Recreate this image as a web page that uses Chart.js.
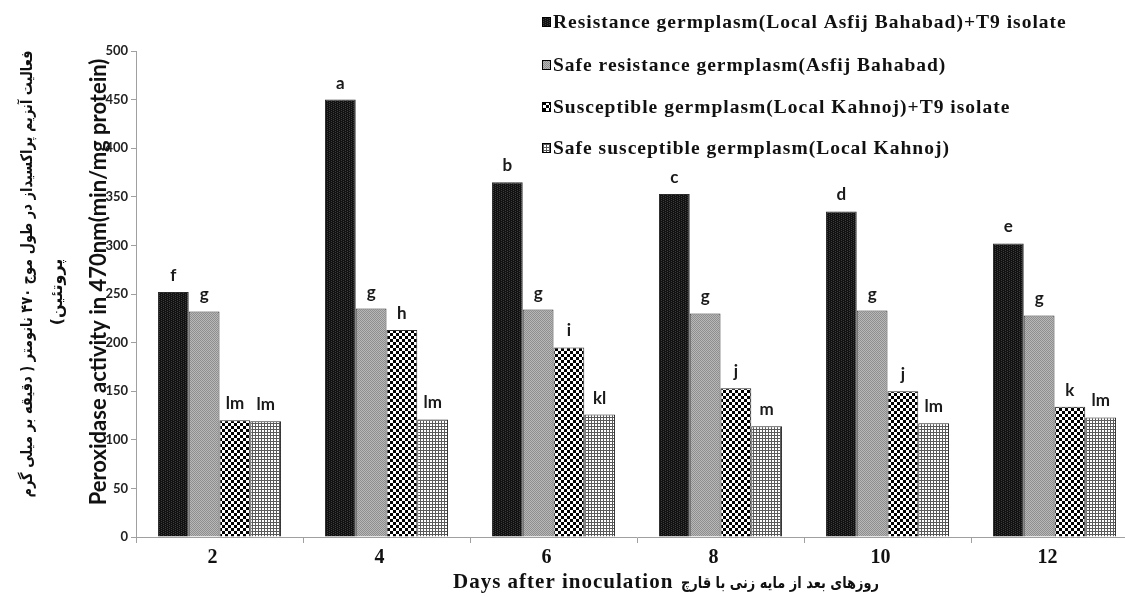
<!DOCTYPE html>
<html><head><meta charset="utf-8">
<script src="https://cdn.jsdelivr.net/npm/chart.js@4.4.1/dist/chart.umd.min.js"></script>
<style>
html,body{margin:0;padding:0;background:#fff;overflow:hidden;}
#wrap{width:1125px;height:597px;overflow:hidden;position:relative;background:#fff;}
canvas{display:block;}
</style></head><body>
<div id="wrap"><canvas id="c" width="1145" height="597"></canvas></div>
<script>
// ---- data ----
const categories = ['2', '4', '6', '8', '10', '12'];
const seriesNames = [
  'Resistance germplasm(Local Asfij Bahabad)+T9 isolate',
  'Safe resistance germplasm(Asfij Bahabad)',
  'Susceptible germplasm(Local Kahnoj)+T9 isolate',
  'Safe susceptible germplasm(Local Kahnoj)'
];
const resistInoculated = [252, 450, 365, 353, 335, 302];
const resistSafe       = [232, 235, 234, 230, 233, 228];
const suscInoculated   = [120, 213, 195, 153, 150, 134];
const suscSafe         = [119, 121, 126, 114, 117, 123];
const lettersResistInoc = ['f', 'a', 'b', 'c', 'd', 'e'];
const lettersResistSafe = ['g', 'g', 'g', 'g', 'g', 'g'];
const lettersSuscInoc   = ['lm', 'h', 'i', 'j', 'j', 'k'];
const lettersSuscSafe   = ['lm', 'lm', 'kl', 'm', 'lm', 'lm'];
const yMin = 0, yMax = 500, yStep = 50;
const yTitleEn = 'Peroxidase activity in 470nm(min/mg protein)';
const yTitleFa1 = 'فعالیت آنزیم پراکسیداز در طول موج ۴۷۰ نانومتر ( دقیقه بر میلی گرم';
const yTitleFa2 = 'پروتئین)';
const xTitleEn = 'Days after inoculation';
const xTitleFa = 'روزهای بعد از مایه زنی با قارچ';

// ---- patterns ----
const mainCtx = document.getElementById('c').getContext('2d');
function makePattern(size, draw) {
  const c = document.createElement('canvas');
  c.width = c.height = size;
  const x = c.getContext('2d');
  draw(x, size);
  return mainCtx.createPattern(c, 'repeat');
}
const patBlack = makePattern(4, (x) => {
  x.fillStyle = '#121212'; x.fillRect(0, 0, 4, 4);
  x.fillStyle = '#3c3c3c'; x.fillRect(1, 0, 1, 1); x.fillRect(1, 2, 1, 1); x.fillRect(3, 1, 1, 1); x.fillRect(3, 3, 1, 1);
});
const patGrey = makePattern(2, (x) => {
  x.fillStyle = '#b8b8b8'; x.fillRect(0, 0, 2, 2);
  x.fillStyle = '#8e8e8e'; x.fillRect(0, 0, 1, 1); x.fillRect(1, 1, 1, 1);
});
const patChecker = makePattern(6, (x) => {
  x.fillStyle = '#000'; x.fillRect(0, 0, 6, 6);
  x.fillStyle = '#fff'; x.fillRect(0, 0, 3, 3); x.fillRect(3, 3, 3, 3);
});
const patGrid = makePattern(3, (x) => {
  x.fillStyle = '#fff'; x.fillRect(0, 0, 3, 3);
  x.fillStyle = '#5a5a5a'; x.fillRect(0, 0, 3, 1); x.fillRect(0, 0, 1, 3);
});
const fills = [patBlack, patGrey, patChecker, patGrid];

// ---- plugins ----
const letterPlugin = {
  id: 'letters',
  afterDatasetsDraw(chart) {
    const ctx = chart.ctx;
    ctx.save();
    ctx.font = 'bold 17px Lato';
    ctx.fillStyle = '#1a1a1a';
    ctx.textAlign = 'center';
    ctx.textBaseline = 'alphabetic';
    chart.data.datasets.forEach((ds, i) => {
      chart.getDatasetMeta(i).data.forEach((bar, j) => {
        ctx.fillText(ds.letters[j], bar.x, bar.y - 11);
      });
    });
    ctx.restore();
  }
};

const textPlugin = {
  id: 'texts',
  afterDraw(chart) {
    const ctx = chart.ctx;
    ctx.save();
    ctx.fillStyle = '#111';
    // y titles
    ctx.textAlign = 'center';
    ctx.textBaseline = 'middle';
    ctx.save(); ctx.translate(99, 282); ctx.rotate(-Math.PI / 2);
    ctx.font = 'bold 22px Lato';
    ctx.fillText(yTitleEn, 0, 0, 460);
    ctx.restore();
    ctx.save(); ctx.translate(28, 274); ctx.rotate(-Math.PI / 2);
    ctx.direction = 'rtl';
    ctx.font = 'bold 16px "DejaVu Sans"';
    ctx.fillText(yTitleFa1, 0, 0, 447);
    ctx.restore();
    ctx.save(); ctx.translate(58, 292); ctx.rotate(-Math.PI / 2);
    ctx.direction = 'rtl';
    ctx.font = 'bold 16px "DejaVu Sans"';
    ctx.fillText(yTitleFa2, 0, 0);
    ctx.restore();
    // x title
    ctx.textAlign = 'left';
    ctx.font = 'bold 21px "Liberation Serif"';
    ctx.letterSpacing = '1px';
    ctx.fillText(xTitleEn, 453, 583, 222);
    ctx.letterSpacing = '0px';
    ctx.save();
    ctx.direction = 'rtl';
    ctx.textAlign = 'center';
    ctx.font = 'bold 16px "DejaVu Sans"';
    ctx.fillText(xTitleFa, 780, 584, 198);
    ctx.restore();
    // legend
    const ly = [22, 65, 107, 148];
    const lw = [514, 395, 459, 400];
    ctx.font = 'bold 19.5px "Liberation Serif"';
    ctx.textAlign = 'left';
    chart.data.datasets.forEach((ds, i) => {
      ctx.fillStyle = fills[i];
      ctx.fillRect(542, ly[i] - 5, 8, 9);
      ctx.strokeStyle = '#000'; ctx.lineWidth = 1;
      ctx.strokeRect(542.5, ly[i] - 4.5, 8, 9);
      ctx.fillStyle = '#111';
      ctx.letterSpacing = '1px';
      ctx.fillText(ds.label, 553, ly[i] + 1, lw[i]);
      ctx.letterSpacing = '0px';
    });
    ctx.restore();
  }
};

const series = [resistInoculated, resistSafe, suscInoculated, suscSafe];
const letters = [lettersResistInoc, lettersResistSafe, lettersSuscInoc, lettersSuscSafe];

new Chart(document.getElementById('c'), {
  type: 'bar',
  data: {
    labels: categories,
    datasets: series.map((d, i) => ({
      label: seriesNames[i],
      data: d,
      letters: letters[i],
      backgroundColor: fills[i],
      borderColor: '#2a2a2a',
      borderWidth: 1,
      barPercentage: 1,
      categoryPercentage: 0.737
    }))
  },
  options: {
    responsive: false,
    animation: false,
    devicePixelRatio: 1,
    layout: { padding: { left: 0, right: 7, top: 51, bottom: 0 } },
    plugins: { legend: { display: false }, tooltip: { enabled: false }, title: { display: false } },
    scales: {
      x: {
        afterFit: (s) => { s.height = 60; },
        grid: { drawOnChartArea: false, drawTicks: true, tickLength: 6, color: '#a0a0a0', offset: true },
        border: { display: true, color: '#a0a0a0', width: 1 },
        ticks: { font: { family: 'Liberation Serif', size: 20, weight: 'bold' }, color: '#111', padding: 3, labelOffset: -7 }
      },
      y: {
        min: yMin, max: yMax,
        afterFit: (s) => { s.width = 136; },
        grid: { drawOnChartArea: false, drawTicks: true, tickLength: 5, color: '#a0a0a0' },
        border: { display: true, color: '#a0a0a0', width: 1 },
        ticks: { stepSize: yStep, font: { family: 'Lato', size: 13, weight: 'bold' }, color: '#222', padding: 3 }
      }
    }
  },
  plugins: [letterPlugin, textPlugin]
});
</script>
</body></html>
